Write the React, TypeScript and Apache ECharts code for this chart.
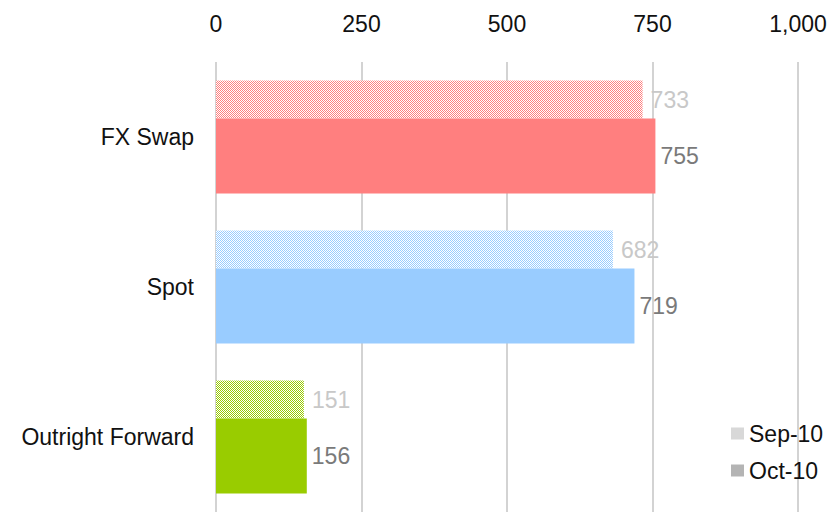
import React, { useEffect, useRef } from "react";
import * as echarts from "echarts";

const categories = ["FX Swap", "Spot", "Outright Forward"];
const sepValues = [733, 682, 151];
const octValues = [755, 719, 156];
const categoryColors = ["#FF7F7F", "#99CCFF", "#99CC00"];
const seriesNames = ["Sep-10", "Oct-10"];
const xTicks = [0, 250, 500, 750, 1000];

const FONT = "'Liberation Sans', Arial, sans-serif";
const FS = 23;

function makePattern(color: string) {
  const c = document.createElement("canvas");
  c.width = 2;
  c.height = 2;
  const ctx = c.getContext("2d")!;
  ctx.fillStyle = "#FFFFFF";
  ctx.fillRect(0, 0, 2, 2);
  ctx.fillStyle = color;
  ctx.fillRect(0, 0, 1, 1);
  ctx.fillRect(1, 1, 1, 1);
  return { image: c, repeat: "repeat" } as any;
}

export default function App() {
  const ref = useRef<HTMLDivElement>(null);
  useEffect(() => {
    if (!ref.current) return;
    const chart = echarts.init(ref.current, undefined, { renderer: "svg" });
    const grayPattern = makePattern("#B0B0B0");
    chart.setOption({
      animation: false,
      grid: { left: 216, right: 36, top: 62, height: 452, containLabel: false },
      legend: {
        orient: "vertical",
        left: 726,
        top: 417,
        itemWidth: 13,
        itemHeight: 12,
        itemGap: 14,
        icon: "rect",
        selectedMode: false,
        textStyle: { fontFamily: FONT, fontSize: FS, color: "#111" },
        data: [
          { name: seriesNames[0], itemStyle: { color: grayPattern } },
          { name: seriesNames[1], itemStyle: { color: "#B4B4B4" } },
        ],
      },
      xAxis: {
        type: "value",
        position: "top",
        min: xTicks[0],
        max: xTicks[xTicks.length - 1],
        interval: xTicks[1] - xTicks[0],
        axisLine: { show: false },
        axisTick: { show: false },
        axisLabel: {
          fontFamily: FONT,
          fontSize: FS,
          color: "#111",
          margin: 27,
          formatter: (v: number) => v.toLocaleString("en-US"),
        },
        splitLine: { show: true, lineStyle: { color: "#C4C4C4", width: 1.5 } },
      },
      yAxis: {
        type: "category",
        inverse: true,
        data: categories,
        axisLine: { show: false },
        axisTick: { show: false },
        axisLabel: { fontFamily: FONT, fontSize: FS, color: "#111", margin: 22 },
      },
      series: [
        {
          name: seriesNames[0],
          type: "bar",
          barWidth: 38,
          barGap: "0%",
          itemStyle: { color: grayPattern },
          label: {
            show: true,
            position: "right",
            distance: 8,
            fontFamily: FONT,
            fontSize: FS,
            color: "#C8C8C8",
          },
          data: sepValues.map((v, i) => ({
            value: v,
            itemStyle: { color: makePattern(categoryColors[i]) },
          })),
        },
        {
          name: seriesNames[1],
          type: "bar",
          barWidth: 75,
          barGap: "0%",
          itemStyle: { color: "#B4B4B4" },
          label: {
            show: true,
            position: "right",
            distance: 5,
            fontFamily: FONT,
            fontSize: FS,
            color: "#7A7A7A",
          },
          data: octValues.map((v, i) => ({
            value: v,
            itemStyle: { color: categoryColors[i] },
          })),
        },
      ],
    });
    return () => chart.dispose();
  }, []);
  return <div ref={ref} style={{ width: 834, height: 512, position: "absolute", left: 0, top: 0 }} />;
}
